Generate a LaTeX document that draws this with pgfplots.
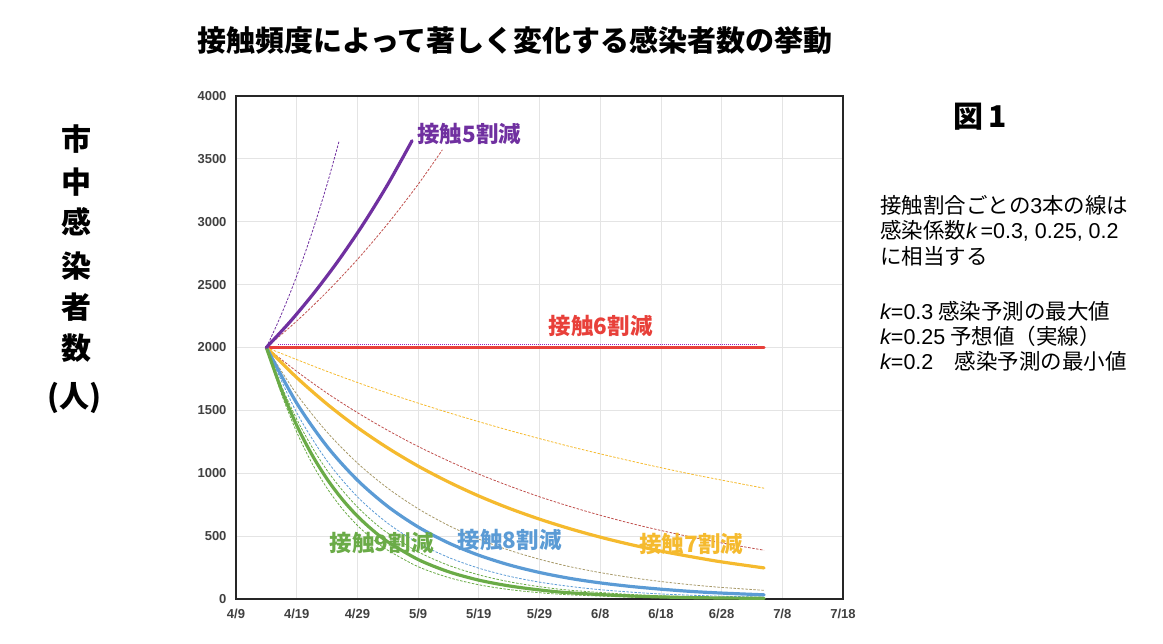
\documentclass[border=0pt]{standalone}
\usepackage{fontspec}
\setmainfont{Noto Sans CJK JP}
\newfontfamily\lat{Liberation Sans}
\usepackage{pgfplots}
\pgfplotsset{compat=1.18}
\definecolor{cPurple}{HTML}{7030A0}
\definecolor{cRed}{HTML}{E8403A}
\definecolor{cYellow}{HTML}{F5BA2E}
\definecolor{cBlue}{HTML}{5B9BD5}
\definecolor{cGreen}{HTML}{6AAB47}
\definecolor{cOlive}{HTML}{A89A6A}
\definecolor{cDRed}{HTML}{C0504D}
\definecolor{cGrid}{HTML}{E4E4E4}
\definecolor{cTick}{HTML}{404040}
\begin{document}
\begin{tikzpicture}[x=1pt,y=1pt]
\path[use as bounding box] (0,0) rectangle (1163,644);
\begin{axis}[
  at={(236pt,45pt)}, anchor=south west, scale only axis,
  width=607pt, height=503pt,
  xmin=0, xmax=100, ymin=0, ymax=4000,
  xtick={0,10,...,100},
  xticklabels={4/9,4/19,4/29,5/9,5/19,5/29,6/8,6/18,6/28,7/8,7/18},
  ytick={0,500,...,4000},
  grid=major, grid style={cGrid, line width=0.8pt},
  axis line style={black!85, line width=1.3pt},
  tick style={draw=none},
  /pgf/number format/assume math mode=true,
  /pgf/number format/1000 sep={},
  ticklabel style={font=\lat\bfseries\fontsize{13}{15}\selectfont, text=cTick},
  yticklabel style={xshift=-6pt},
  xticklabel style={yshift=-7pt},
  clip=false,
  dashline/.style={line width=0.8pt, dash pattern=on 2.5pt off 1.5pt},
  solidline/.style={line width=3.2pt, line join=round, line cap=round},
]
% ---- thin dashed lines (k = 0.3 / 0.2) ----
\addplot[dashline, cPurple, smooth] coordinates {(5,2000)(7,2210)(9,2443)(11,2700)(13,2984)(15,3297)(17,3644)};
\addplot[dashline, cDRed, smooth] coordinates {(5,2000)(10,2210)(15,2443)(20,2700)(25,2984)(30,3297)(34,3572)};
\addplot[line width=0.8pt, dash pattern=on 1pt off 1pt, cPurple!70!magenta] coordinates {(7,2024)(86,2024)};
\addplot[dashline, cYellow, smooth] coordinates {(5,2000)(15,1810)(25,1637)(35,1482)(45,1341)(55,1213)(65,1098)(75,993)(87,881)};
\addplot[dashline, cDRed, smooth] coordinates {(5,2000)(10,1810)(15,1637)(20,1482)(25,1341)(30,1213)(35,1098)(40,993)(45,899)(50,813)(55,736)(60,666)(65,602)(70,545)(75,493)(80,446)(87,388)};
\addplot[dashline, cOlive, smooth] coordinates {(5,2000)(10,1629)(15,1327)(20,1081)(25,881)(30,718)(35,585)(40,476)(45,388)(50,316)(55,257)(60,210)(65,171)(70,139)(75,113)(80,92)(87,69)};
\addplot[dashline, cBlue, smooth] coordinates {(5,2000)(10,1482)(15,1098)(20,813)(25,602)(30,446)(35,331)(40,245)(45,181)(50,134)(55,100)(60,74)(65,55)(70,40)(75,30)(80,22)(87,15)};
\addplot[dashline, cGreen, smooth] coordinates {(5,2000)(7.5,1692)(10,1431)(12.5,1210)(15,1023)(17.5,866)(20,732)(22.5,619)(25,524)(30,375)(35,268)(40,192)(45,137)(50,98)(55,70)(65,36)(75,18)(87,8)};
\addplot[dashline, cGreen, smooth] coordinates {(5,2000)(7.5,1629)(10,1327)(12.5,1081)(15,881)(17.5,718)(20,585)(22.5,476)(25,388)(30,257)(35,171)(40,113)(45,75)(50,50)(55,33)(65,15)(75,6)(87,2)};
% ---- thick solid lines (k = 0.25) ----
\addplot[solidline, cRed] coordinates {(5,2000)(87,2000)};
\addplot[solidline, cYellow, smooth] coordinates {(5,2000)(10,1761)(15,1550)(20,1364)(25,1201)(30,1057)(35,931)(40,819)(45,721)(50,635)(55,559)(60,492)(65,433)(70,381)(75,336)(80,295)(87,247)};
\addplot[solidline, cBlue, smooth] coordinates {(5,2000)(10,1558)(15,1213)(20,945)(25,736)(30,573)(35,446)(40,348)(45,271)(50,211)(55,164)(60,128)(65,100)(70,78)(75,60)(80,47)(87,33)};
\addplot[solidline, cGreen, smooth] coordinates {(5,2000)(7.5,1662)(10,1381)(12.5,1148)(15,954)(17.5,793)(20,659)(22.5,548)(25,455)(30,314)(35,217)(40,150)(45,104)(50,72)(55,49)(65,24)(75,11)(87,5)};
\addplot[solidline, cPurple, smooth] coordinates {(5,2000)(9,2210)(13,2443)(17,2700)(21,2984)(25,3297)(29,3644)};
% ---- labels ----
\node[anchor=west, text=cPurple, font=\bfseries\fontsize{22.5}{24}\selectfont] at (axis cs:29.3,3700) {接触5割減};
\node[text=cRed, font=\bfseries\fontsize{22.5}{24}\selectfont] at (axis cs:60.1,2170) {接触6割減};
\node[text=cYellow, font=\bfseries\fontsize{22.5}{24}\selectfont] at (axis cs:75,437) {接触7割減};
\node[text=cBlue, font=\bfseries\fontsize{22.5}{24}\selectfont] at (axis cs:45.1,469) {接触8割減};
\node[text=cGreen, font=\bfseries\fontsize{22.5}{24}\selectfont] at (axis cs:24,445) {接触9割減};
\end{axis}
% title
\node[font=\bfseries\fontsize{29}{31}\selectfont] at (515,604) {接触頻度によって著しく変化する感染者数の挙動};
% y label, stacked
\begin{scope}[every node/.style={font=\bfseries\fontsize{30}{31}\selectfont}]
\node at (76,505) {市};
\node at (76,462) {中};
\node at (76,422) {感};
\node at (76,378) {染};
\node at (76,337) {者};
\node at (76,296) {数};
\node at (74,246) {(人)};
\end{scope}
% figure number
\node[font=\bfseries\fontsize{30}{32}\selectfont] at (980,527) {図\,1};
% explanation
\begin{scope}[every node/.style={anchor=west, font=\fontsize{21.5}{24}\selectfont, inner sep=0pt}]
\node at (880,439) {接触割合ごとの{\lat 3}本の線は};
\node at (880,413) {感染係数{\lat\itshape k}\,{\lat =0.3, 0.25, 0.2}};
\node at (880,388) {に相当する};
\node at (880,333) {{\lat\itshape k}{\lat =0.3} 感染予測の最大値};
\node at (880,308) {{\lat\itshape k}{\lat =0.25} 予想値（実線）};
\node at (880,283) {{\lat\itshape k}{\lat =0.2}\hspace{1em}感染予測の最小値};
\end{scope}
\end{tikzpicture}
\end{document}
